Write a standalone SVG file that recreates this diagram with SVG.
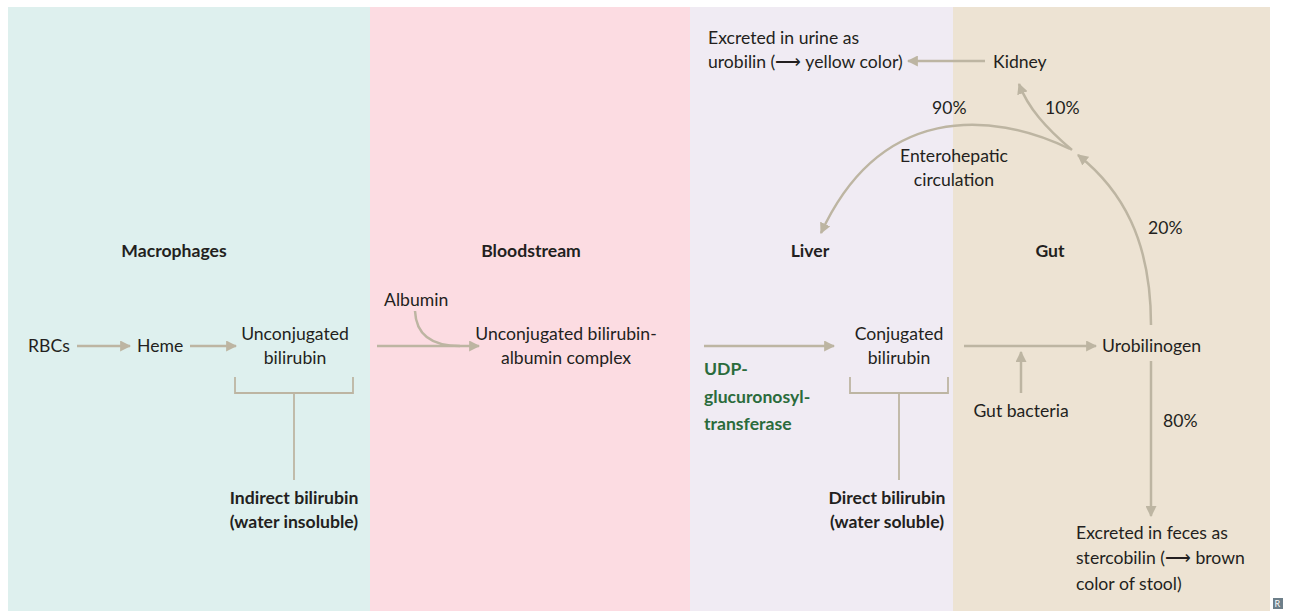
<svg xmlns="http://www.w3.org/2000/svg" width="1291" height="611" viewBox="0 0 1291 611">
<style>
text{font-family:Lato,"Open Sans","Liberation Sans",sans-serif;font-size:17.6px;fill:#231f20}
.c{text-anchor:middle}
.b{font-weight:bold}
.g{fill:#2b6b3c;font-weight:bold}
.ln{fill:none;stroke:#bdb5a2;stroke-width:2.5}
.br{fill:none;stroke:#bdb5a2;stroke-width:1.8}
</style>
<defs>
<marker id="ah" viewBox="0 0 10 10" refX="9" refY="5" markerWidth="4.4" markerHeight="4.4" orient="auto" markerUnits="strokeWidth">
<path d="M0,0 L10,5 L0,10 z" fill="#bdb5a2"/>
</marker>
</defs>
<g id="panels">
<rect x="8" y="7" width="362" height="604" fill="#def0ee"/>
<rect x="370" y="7" width="320" height="604" fill="#fcdce2"/>
<rect x="690" y="7" width="263" height="604" fill="#f0ebf3"/>
<rect x="953" y="7" width="317" height="604" fill="#ede3d3"/>
</g>
<g id="headers">
<text class="c b" x="174" y="257">Macrophages</text>
<text class="c b" x="531" y="257">Bloodstream</text>
<text class="c b" x="810" y="257">Liver</text>
<text class="c b" x="1050" y="257">Gut</text>
</g>
<g id="connectors">
<line class="ln" x1="77" y1="346" x2="130" y2="346" marker-end="url(#ah)"/>
<line class="ln" x1="190" y1="346" x2="236" y2="346" marker-end="url(#ah)"/>
<line class="ln" x1="377" y1="346" x2="479" y2="346" marker-end="url(#ah)"/>
<path class="ln" d="M415,311 C416,334 430,346 460,346"/>
<line class="ln" x1="704" y1="346" x2="834" y2="346" marker-end="url(#ah)"/>
<line class="ln" x1="964" y1="346" x2="1096" y2="346" marker-end="url(#ah)"/>
<line class="ln" x1="1021" y1="393" x2="1021" y2="352" marker-end="url(#ah)"/>
<line class="ln" x1="1151" y1="361" x2="1151" y2="516" marker-end="url(#ah)"/>
<path class="ln" d="M1151,325 C1151,240 1122,190 1078,155" marker-end="url(#ah)"/>
<path class="ln" d="M1072,150 C1046,128 1028,108 1019,84" marker-end="url(#ah)"/>
<path class="ln" d="M1070,149 C990,110 880,105 821,233" marker-end="url(#ah)"/>
<line class="ln" x1="985" y1="61" x2="908" y2="61" marker-end="url(#ah)"/>
<path class="br" d="M235,377 V393 H353 V377 M294,393 V480"/>
<path class="br" d="M850,377 V393 H948 V377 M899,393 V480"/>
</g>
<g id="n-rbcs"><text x="28" y="352">RBCs</text></g>
<g id="n-heme"><text x="137" y="352">Heme</text></g>
<g id="n-unconj"><text class="c" x="295" y="340">Unconjugated</text><text class="c" x="295" y="364">bilirubin</text></g>
<g id="n-indirect"><text class="c b" x="294" y="504">Indirect bilirubin</text><text class="c b" x="294" y="528">(water insoluble)</text></g>
<g id="n-albumin"><text x="384" y="306">Albumin</text></g>
<g id="n-complex"><text class="c" x="566" y="340">Unconjugated bilirubin-</text><text class="c" x="566" y="364">albumin complex</text></g>
<g id="n-udp"><text class="g" x="704" y="375">UDP-</text><text class="g" x="704" y="403">glucuronosyl-</text><text class="g" x="704" y="430">transferase</text></g>
<g id="n-conj"><text class="c" x="899" y="340">Conjugated</text><text class="c" x="899" y="364">bilirubin</text></g>
<g id="n-direct"><text class="c b" x="887" y="504">Direct bilirubin</text><text class="c b" x="887" y="528">(water soluble)</text></g>
<g id="n-bacteria"><text class="c" x="1021" y="417">Gut bacteria</text></g>
<g id="n-urobilinogen"><text x="1102" y="352">Urobilinogen</text></g>
<g id="n-80"><text x="1163" y="427">80%</text></g>
<g id="n-feces"><text x="1076" y="539">Excreted in feces as</text><text x="1076" y="564">stercobilin (⟶ brown</text><text x="1076" y="590">color of stool)</text></g>
<g id="n-20"><text x="1148" y="234">20%</text></g>
<g id="n-10"><text x="1045" y="114">10%</text></g>
<g id="n-90"><text x="932" y="114">90%</text></g>
<g id="n-entero"><text class="c" x="954" y="162">Enterohepatic</text><text class="c" x="954" y="186">circulation</text></g>
<g id="n-kidney"><text x="993" y="68">Kidney</text></g>
<g id="n-urine"><text x="708" y="44">Excreted in urine as</text><text x="708" y="68">urobilin (⟶ yellow color)</text></g>
<g id="logo"><rect x="1273" y="598" width="10" height="11" fill="#6d7f8a"/><text x="1274.5" y="607" style="font-size:9px;fill:#fff">R</text></g>
</svg>
